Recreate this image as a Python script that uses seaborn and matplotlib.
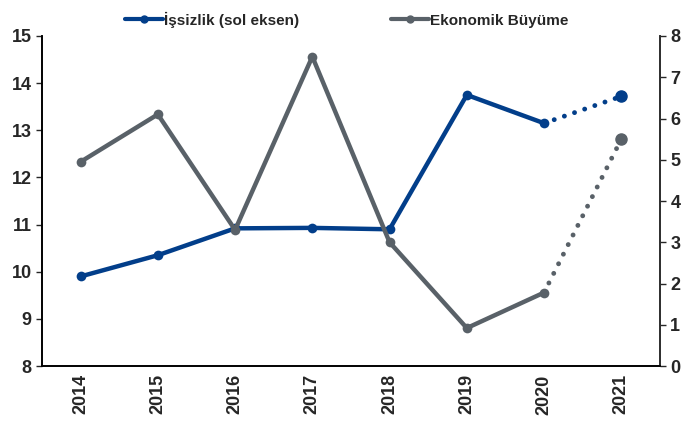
import numpy as np
import pandas as pd
import matplotlib.pyplot as plt
import seaborn as sns
from matplotlib.lines import Line2D

years = ["2014", "2015", "2016", "2017", "2018", "2019", "2020", "2021"]
unemployment = [9.9, 10.35, 10.92, 10.93, 10.9, 13.75, 13.15, 13.72]
growth = [4.95, 6.1, 3.3, 7.5, 3.0, 0.92, 1.78, 5.5]

blue = "#023E8A"
gray = "#596168"

sns.set_style("white")
plt.rcParams["font.family"] = ["Liberation Sans", "DejaVu Sans"]
plt.rcParams["font.weight"] = "bold"

df = pd.DataFrame({"x": np.arange(len(years)), "year": years,
                   "unemp": unemployment, "growth": growth})
solid = df.iloc[:7]
dotted = df.iloc[6:]
dots = (0, (0.01, 2.2))

fig = plt.figure(figsize=(6.86, 4.21), dpi=100)
ax = fig.add_axes([0.0612, 0.1306, 0.9008, 0.7839])
ax2 = ax.twinx()

# left axis: unemployment
sns.lineplot(data=solid, x="x", y="unemp", ax=ax, color=blue, lw=3.2,
             marker="o", markersize=7, markeredgewidth=0)
sns.lineplot(data=dotted, x="x", y="unemp", ax=ax, color=blue, lw=3.5,
             linestyle=dots, dash_capstyle="round")
ax.plot(dotted["x"].iloc[-1], dotted["unemp"].iloc[-1], "o", color=blue, ms=8)

# right axis: growth
sns.lineplot(data=solid, x="x", y="growth", ax=ax2, color=gray, lw=3.2,
             marker="o", markersize=7, markeredgewidth=0)
sns.lineplot(data=dotted, x="x", y="growth", ax=ax2, color=gray, lw=3.5,
             linestyle=dots, dash_capstyle="round")
ax2.plot(dotted["x"].iloc[-1], dotted["growth"].iloc[-1], "o", color=gray, ms=8)

ax.set_xlim(-0.5, 7.5)
ax.set_ylim(8, 15)
ax2.set_ylim(0, 8)
ax.set_xticks(df["x"])
ax.set_xticklabels(years, rotation=90, fontsize=13, fontweight="bold")
ax.set_xticks(np.arange(-0.5, 8, 1), minor=True)
ax.tick_params(axis="x", which="major", length=0, pad=6)
ax.tick_params(axis="x", which="minor", length=5, width=1, direction="out")
ax.set_yticks(range(8, 16))
ax2.set_yticks(range(0, 9))
ax.tick_params(axis="y", length=4, width=1, labelsize=13, direction="out")
ax2.tick_params(axis="y", length=4, width=1, labelsize=13, direction="out")
for lab in ax.get_yticklabels() + ax2.get_yticklabels():
    lab.set_fontweight("bold")
ax.set_xlabel("")
ax.set_ylabel("")
ax2.set_ylabel("")

for a in (ax, ax2):
    a.spines["top"].set_visible(False)
    for s in ("left", "right", "bottom"):
        a.spines[s].set_color("black")
        a.spines[s].set_linewidth(1.2)
ax2.spines["right"].set_color("#333333")

handles = [Line2D([], [], color=blue, lw=3, marker="o", ms=5),
           Line2D([], [], color=gray, lw=3, marker="o", ms=5)]
fig.legend(handles, ["İşsizlik (sol eksen)", "Ekonomik Büyüme"],
           loc="upper center", bbox_to_anchor=(0.505, 1.005), ncol=2,
           frameon=False, handlelength=2.5, handletextpad=0.05,
           columnspacing=6.0, prop={"weight": "bold", "size": 11})

fig.savefig("out.png", dpi=100)
